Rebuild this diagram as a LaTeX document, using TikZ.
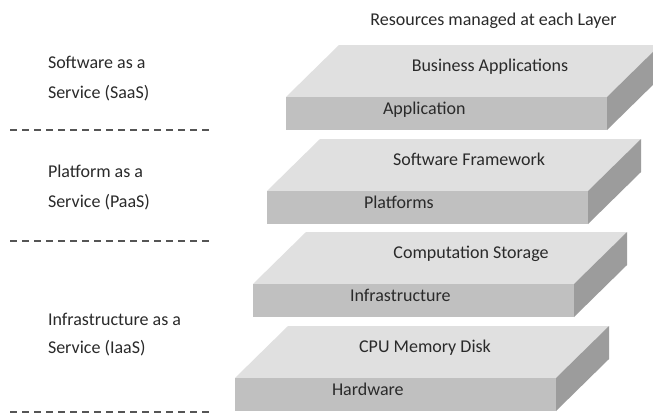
\documentclass[tikz,border=0pt]{standalone}
\usepackage{fontspec}
\setmainfont{Carlito}

\definecolor{slabtop}{HTML}{E0E0E0}
\definecolor{slabfront}{HTML}{C0C0C0}
\definecolor{slabside}{HTML}{9C9C9C}
\definecolor{inktext}{HTML}{2A2A2A}
\definecolor{rulegray}{HTML}{555555}

\tikzset{
  txt/.style={inner sep=0pt, outer sep=0pt, text=inktext, font=\fontsize{18}{22}\selectfont},
  facelabel/.style={txt, anchor=base west},
  toplabel/.style={txt, anchor=base},
  sidelabel/.style={txt, anchor=base west},
  separator/.style={draw=rulegray, line width=2pt, dash pattern=on 7pt off 5pt},
}

% One layer slab: #1,#2 = front top-left corner, #3 = name,
% #4 = front label, #5 = top label, #6 = x offset of the top label
\newcommand\drawslab[6]{%
  \begin{scope}[shift={(#1,#2)}]
    \fill[slabtop]   (0,0) -- (53,-52) -- (374,-52) -- (321,0) -- cycle;
    \fill[slabfront] (0,0) rectangle (321,33);
    \fill[slabside]  (321,0) -- (374,-52) -- (374,-19) -- (321,33) -- cycle;
    \node[facelabel] (#3-front) at (97,17.5) {#4};
    \node[toplabel]  (#3-top)   at (#6,-25.5) {#5};
  \end{scope}}

\begin{document}
\begin{tikzpicture}[x=1pt, y=-1pt]
  \fill[white] (0,0) rectangle (653,416);
  \useasboundingbox (0,0) rectangle (653,416);
  \clip (0,0) rectangle (653,416);

  % heading
  \node[toplabel] (heading) at (493.5,25) {Resources managed at each Layer};

  % the four stacked layers
  \drawslab{286}{97}{app}{Application}{Business Applications}{204}
  \drawslab{267}{191}{plat}{Platforms}{Software Framework}{202}
  \drawslab{253}{284}{infra}{Infrastructure}{Computation Storage}{218}
  \drawslab{235}{378}{hw}{Hardware}{CPU Memory Disk}{190}

  % service models on the left
  \node[sidelabel] (saas1) at (48,68)  {Software as a};
  \node[sidelabel] (saas2) at (48,98)  {Service (SaaS)};
  \node[sidelabel] (paas1) at (48,177) {Platform as a};
  \node[sidelabel] (paas2) at (48,207) {Service (PaaS)};
  \node[sidelabel] (iaas1) at (48,325) {Infrastructure as a};
  \node[sidelabel] (iaas2) at (48,353) {Service (IaaS)};

  % dashed separators between the models
  \coordinate (sepA1) at (10,130);  \coordinate (sepA2) at (213,130);
  \coordinate (sepB1) at (10,241);  \coordinate (sepB2) at (213,241);
  \coordinate (sepC1) at (10,412);  \coordinate (sepC2) at (213,412);
  \draw[separator] (sepA1) -- (sepA2);
  \draw[separator] (sepB1) -- (sepB2);
  \draw[separator] (sepC1) -- (sepC2);
\end{tikzpicture}
\end{document}
